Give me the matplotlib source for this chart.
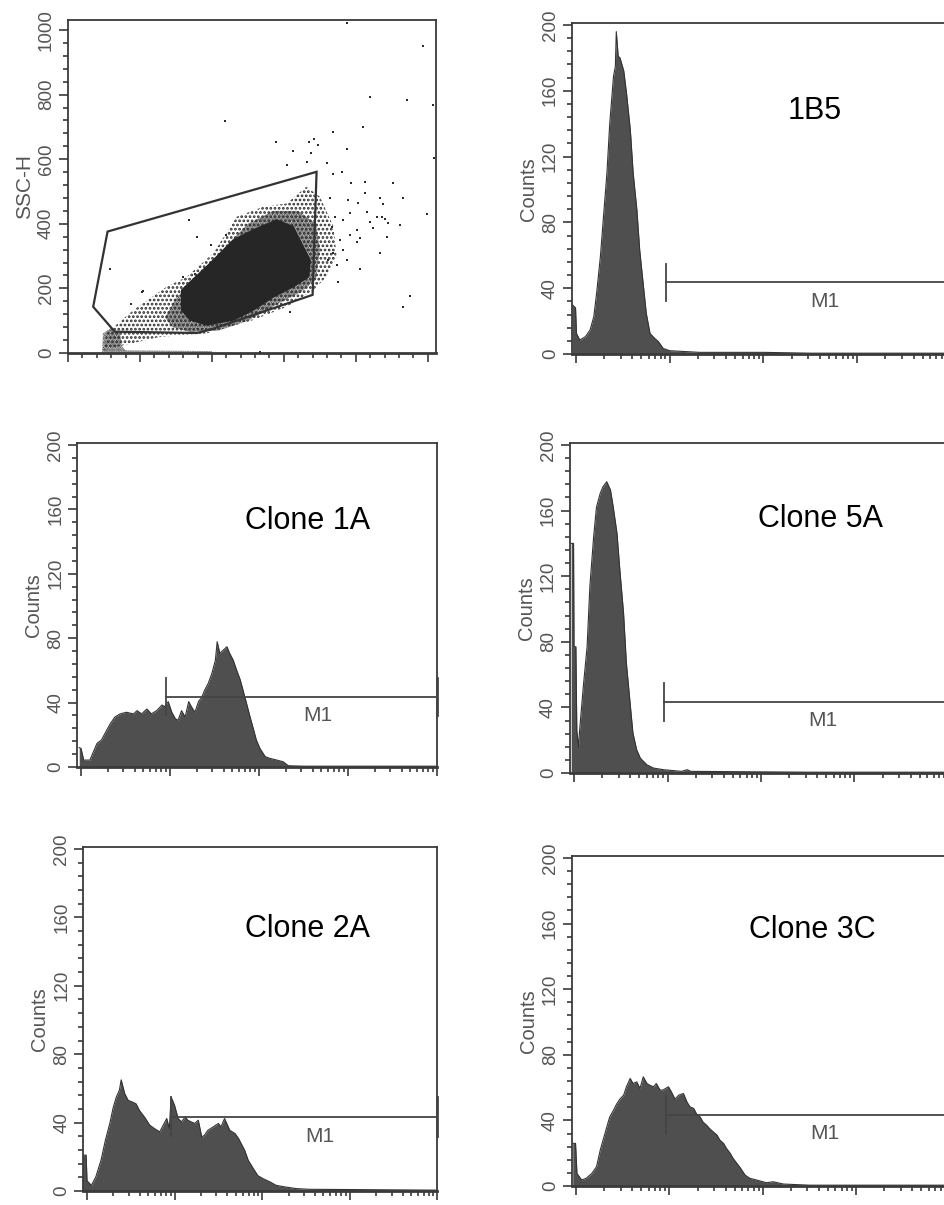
import numpy as np
import matplotlib
matplotlib.use("Agg")
import matplotlib.pyplot as plt
from matplotlib.patches import Polygon
from matplotlib.ticker import MultipleLocator, LogLocator, NullFormatter, FixedLocator

plt.rcParams['font.family'] = ['Liberation Sans', 'DejaVu Sans']
plt.rcParams['hatch.linewidth'] = 1.3

# ---------------- data ----------------
# FSC/SSC dot plot (linear channels 0-1023)
gate_fsc = [110, 691, 680, 395, 358, 130, 70]
gate_ssc = [376, 561, 180, 72, 62, 66, 143]

core_fsc = [316, 395, 460, 515, 580, 626, 654, 673, 669, 626, 571, 515, 460, 386, 340, 316]
core_ssc = [195, 278, 350, 381, 412, 391, 329, 288, 236, 205, 174, 133, 102, 87, 102, 133]

inner_fsc = [270, 300, 360, 430, 500, 570, 640, 690, 700, 690, 650, 580, 500, 420, 340, 290]
inner_ssc = [110, 170, 240, 320, 400, 440, 440, 400, 320, 230, 190, 150, 100, 70, 65, 80]

halo_fsc = [107, 182, 274, 330, 404, 469, 543, 608, 663, 700, 738, 747, 719, 682, 608, 515, 386, 256, 135, 98]
halo_ssc = [61, 133, 205, 236, 309, 422, 453, 463, 515, 484, 391, 298, 236, 195, 143, 102, 61, 50, 19, 9]

debris_fsc = [95, 97, 120, 145, 150, 160, 400, 400]
debris_ssc = [0, 60, 78, 60, 20, 8, 6, 0]

outlier_fsc = [988, 840, 943, 1014, 821, 736, 578, 671, 684, 696, 625, 775, 676, 610, 664, 721,
               736, 761, 1017, 786, 826, 904, 930, 867, 877, 997, 923, 886, 867, 812, 750, 951,
               932, 617, 826, 807, 779, 728, 784, 830, 858, 881, 890, 849, 803, 812, 784, 765,
               742, 733, 756, 765, 738, 775, 747, 724, 803, 872, 840, 436, 337, 358, 117, 209,
               775, 398, 206, 176, 320, 352, 440, 534]
outlier_ssc = [950, 792, 783, 768, 699, 683, 653, 654, 662, 645, 626, 632, 618, 582, 592, 589,
               554, 560, 605, 525, 530, 525, 481, 481, 460, 430, 397, 358, 309, 259, 221, 176,
               141, 127, 494, 465, 474, 479, 432, 437, 422, 414, 401, 386, 381, 355, 365, 412,
               422, 391, 350, 319, 309, 288, 272, 288, 345, 422, 406, 719, 412, 358, 259, 193,
               1022, 334, 190, 153, 236, 246, 365, 4]

# Histograms: (log10 fluorescence, counts)
hist_1b5 = [(-0.04, 30), (-0.005, 28), (0.005, 12.5), (0.04, 8.5), (0.10, 10.5), (0.15, 14.6),
            (0.19, 22.7), (0.22, 37), (0.26, 59), (0.29, 81), (0.33, 110), (0.36, 140),
            (0.40, 168.6), (0.42, 175), (0.43, 196), (0.45, 181), (0.47, 180), (0.51, 172),
            (0.54, 158), (0.58, 136), (0.61, 110), (0.65, 87.5), (0.68, 63), (0.72, 41),
            (0.75, 24.7), (0.79, 12.5), (0.84, 9.5), (0.88, 7.5), (0.93, 3.4), (1.00, 2),
            (1.32, 1), (2.0, 1), (2.5, 0.5), (4.0, 0.5)]

hist_1a = [(-0.02, 12), (0.0, 11.6), (0.03, 4.3), (0.10, 4.3), (0.18, 14.7), (0.23, 16.8),
           (0.29, 23), (0.33, 27), (0.38, 31), (0.44, 33), (0.51, 34), (0.59, 33), (0.63, 35),
           (0.68, 33), (0.74, 36), (0.79, 33), (0.85, 35), (0.91, 38.5), (0.94, 37.5),
           (0.98, 40.6), (1.02, 34), (1.06, 30), (1.09, 29), (1.13, 35), (1.17, 31),
           (1.21, 40.6), (1.24, 37.5), (1.28, 34), (1.32, 40.6), (1.36, 43.7), (1.39, 47.8),
           (1.43, 52), (1.47, 58), (1.51, 66.4), (1.53, 77.8), (1.56, 70.6), (1.60, 72.7),
           (1.64, 74.7), (1.67, 70.6), (1.71, 66.4), (1.75, 60), (1.79, 54), (1.82, 47.8),
           (1.86, 39.5), (1.90, 31), (1.94, 23), (1.97, 16.8), (2.01, 11.6), (2.07, 6.4),
           (2.12, 5.4), (2.20, 4.3), (2.27, 3.3), (2.33, 0.8), (2.5, 0.5), (4.0, 0.5)]

hist_5a = [(-0.03, 140), (-0.005, 140), (0.0, 77), (0.02, 77), (0.03, 26), (0.048, 16),
           (0.06, 26), (0.10, 53), (0.14, 77), (0.17, 114), (0.21, 144), (0.24, 162),
           (0.28, 170.5), (0.31, 174.6), (0.35, 177.6), (0.39, 172.6), (0.42, 162),
           (0.46, 146), (0.49, 124), (0.53, 97.4), (0.56, 67), (0.60, 42.6), (0.63, 24.4),
           (0.67, 14.2), (0.71, 9), (0.78, 5), (0.85, 3), (0.96, 2), (1.15, 1), (1.21, 2),
           (1.25, 1), (2.5, 0.5), (4.0, 0.5)]

hist_2a = [(-0.05, 21), (-0.01, 21), (0.0, 6), (0.05, 3.3), (0.10, 8.2), (0.16, 18),
           (0.21, 29.7), (0.26, 39.5), (0.30, 49), (0.335, 55), (0.37, 59), (0.39, 65),
           (0.43, 57), (0.47, 53), (0.52, 52), (0.56, 51), (0.60, 47), (0.66, 43),
           (0.716, 38.5), (0.77, 36.5), (0.83, 34.6), (0.87, 38.5), (0.91, 42.4),
           (0.94, 36.5), (0.96, 55), (1.0, 50), (1.04, 42.4), (1.08, 40.4), (1.12, 43.4),
           (1.15, 41.4), (1.19, 40.4), (1.23, 39.5), (1.27, 41.4), (1.31, 31.6), (1.34, 32.6),
           (1.38, 35.5), (1.44, 37.5), (1.50, 39.5), (1.53, 37.5), (1.57, 42.4), (1.63, 35.5),
           (1.69, 33.6), (1.73, 30.7), (1.76, 27.7), (1.80, 23.8), (1.84, 18), (1.90, 13),
           (1.95, 9), (2.01, 7.2), (2.09, 5.3), (2.16, 3.3), (2.27, 2.3), (2.39, 1.4),
           (2.54, 1), (4.0, 0.5)]

hist_3c = [(-0.035, 26), (-0.005, 26), (0.01, 7.7), (0.06, 3.7), (0.11, 4.7), (0.17, 7.7),
           (0.22, 11.8), (0.26, 22), (0.29, 28), (0.33, 36), (0.36, 42), (0.40, 46),
           (0.435, 50), (0.47, 53), (0.51, 55.4), (0.54, 60.5), (0.58, 65.6), (0.61, 62.5),
           (0.65, 63.5), (0.685, 59.5), (0.72, 66.6), (0.76, 62.5), (0.79, 61.5), (0.83, 60.5),
           (0.86, 62.5), (0.90, 58.5), (0.93, 58.5), (0.99, 60.5), (1.02, 57.5), (1.06, 53),
           (1.10, 55.4), (1.15, 56.4), (1.19, 51), (1.22, 48.3), (1.26, 47.3), (1.29, 44),
           (1.33, 42), (1.36, 39), (1.40, 37), (1.43, 35), (1.47, 33), (1.51, 31), (1.54, 28),
           (1.58, 26), (1.61, 23), (1.65, 20), (1.68, 17), (1.72, 14), (1.76, 11), (1.81, 6.7),
           (1.86, 4.7), (1.93, 3.7), (2.04, 2), (2.11, 2.6), (2.22, 1.2), (2.5, 0.5), (4.0, 0.5)]

clone_names = ['1B5', 'Clone 1A', 'Clone 5A', 'Clone 2A', 'Clone 3C']
clone_label_pos = [(2.55, 148), (2.55, 153), (2.64, 155), (2.52, 153), (2.53, 156)]
m1_start = 0.96      # log10 of M1 gate start
m1_level = 43.5
m1_bar = (32, 55)
m1_text_pos = (2.66, 32)

# ---------------- layout ----------------
W, H = 945, 1205
fig = plt.figure(figsize=(W / 100, H / 100), dpi=100)
fig.patch.set_facecolor('white')

SPINE = '#3a3a3a'
TXT = '#555555'
HISTC = '#4f4f4f'


def px_axes(left, right, top, bottom):
    return fig.add_axes([left / W, 1 - bottom / H, (right - left) / W, (bottom - top) / H])


def style_axes(ax):
    for s in ax.spines.values():
        s.set_color(SPINE)
        s.set_linewidth(1.3)
    ax.spines['bottom'].set_linewidth(2.0)
    ax.tick_params(which='both', direction='out', color=SPINE, width=1.2,
                   labelcolor=TXT, labelsize=13.5)
    ax.tick_params(which='major', length=6.5)
    ax.tick_params(which='minor', length=3.5)
    ax.tick_params(axis='x', labelbottom=False)
    ax.tick_params(axis='y', labelrotation=90, pad=3)
    for lab in ax.get_yticklabels():
        lab.set_va('center')


# Dot plot
ax0 = px_axes(68, 436, 20, 353)
ax0.set_xlim(0, 1023)
ax0.set_ylim(0, 1031)
ax0.add_patch(Polygon(np.column_stack([halo_fsc, halo_ssc]), closed=True, facecolor='none',
                      edgecolor='#2a2a2a', hatch='....', linewidth=0, zorder=1))
ax0.add_patch(Polygon(np.column_stack([inner_fsc, inner_ssc]), closed=True, facecolor='none',
                      edgecolor='#2a2a2a', hatch='.......', linewidth=0, zorder=1))
ax0.add_patch(Polygon(np.column_stack([debris_fsc, debris_ssc]), closed=True, facecolor='none',
                      edgecolor='#2a2a2a', hatch='.......', linewidth=0, zorder=1))
ax0.add_patch(Polygon(np.column_stack([core_fsc, core_ssc]), closed=True, facecolor='#262626',
                      edgecolor='#262626', linewidth=1.0, zorder=2))
ax0.scatter(outlier_fsc, outlier_ssc, s=4.5, marker='s', color='#2a2a2a', linewidths=0, zorder=3)
ax0.add_patch(Polygon(np.column_stack([gate_fsc, gate_ssc]), closed=True, fill=False,
                      edgecolor='#333333', linewidth=1.6, zorder=4))
ax0.xaxis.set_major_locator(MultipleLocator(200))
ax0.xaxis.set_minor_locator(MultipleLocator(40))
ax0.yaxis.set_major_locator(FixedLocator([0, 200, 400, 600, 800, 1000]))
ax0.yaxis.set_minor_locator(MultipleLocator(40))
style_axes(ax0)
ax0.set_ylabel('SSC-H', fontsize=15, color=TXT, labelpad=3)

# Histogram panels: (data, zero_px, px_per_decade, y0_px, y200_px)
panels = [
    (hist_1b5, 576, 93.7, 354, 25),
    (hist_1a, 81, 89.0, 767, 445),
    (hist_5a, 574, 93.5, 773, 445),
    (hist_2a, 87, 87.6, 1191, 849),
    (hist_3c, 576, 93.4, 1186, 858),
]
XMIN_DEC = -0.04
YTOP = 201

for (data, zpx, ppd, y0, y200), name, lpos in zip(panels, clone_names, clone_label_pos):
    left = zpx + XMIN_DEC * ppd
    right = zpx + 4 * ppd
    top = y0 - (y0 - y200) * YTOP / 200
    ax = px_axes(left, right, top, y0)
    ax.set_xscale('log')
    ax.set_xlim(10 ** XMIN_DEC, 1e4)
    ax.set_ylim(0, YTOP)
    lx = np.array([p[0] for p in data])
    cy = np.array([p[1] for p in data])
    ax.fill_between(10 ** lx, cy, 0, color=HISTC, linewidth=0, zorder=2)
    ax.plot(10 ** lx, cy, color='#333333', linewidth=0.8, zorder=2)
    # M1 marker
    xs = 10 ** m1_start
    ax.plot([xs, 1e4], [m1_level, m1_level], color='#444444', linewidth=1.3, zorder=3,
            clip_on=False)
    ax.plot([xs, xs], m1_bar, color='#444444', linewidth=1.3, zorder=3)
    ax.plot([1e4, 1e4], m1_bar, color='#444444', linewidth=2.0, zorder=3, clip_on=False)
    ax.text(10 ** m1_text_pos[0], m1_text_pos[1], 'M1', fontsize=15, color=TXT,
            ha='center', va='center')
    ax.text(10 ** lpos[0], lpos[1], name, fontsize=22, color='black', ha='center',
            va='center')
    ax.xaxis.set_major_locator(LogLocator(base=10, numticks=10))
    ax.xaxis.set_minor_locator(LogLocator(base=10, subs=np.arange(2, 10), numticks=20))
    ax.xaxis.set_minor_formatter(NullFormatter())
    ax.yaxis.set_major_locator(MultipleLocator(40))
    ax.yaxis.set_minor_locator(MultipleLocator(8))
    style_axes(ax)
    ax.set_ylabel('Counts', fontsize=14.5, color=TXT, labelpad=3)

fig.savefig('out.png', dpi=100)
